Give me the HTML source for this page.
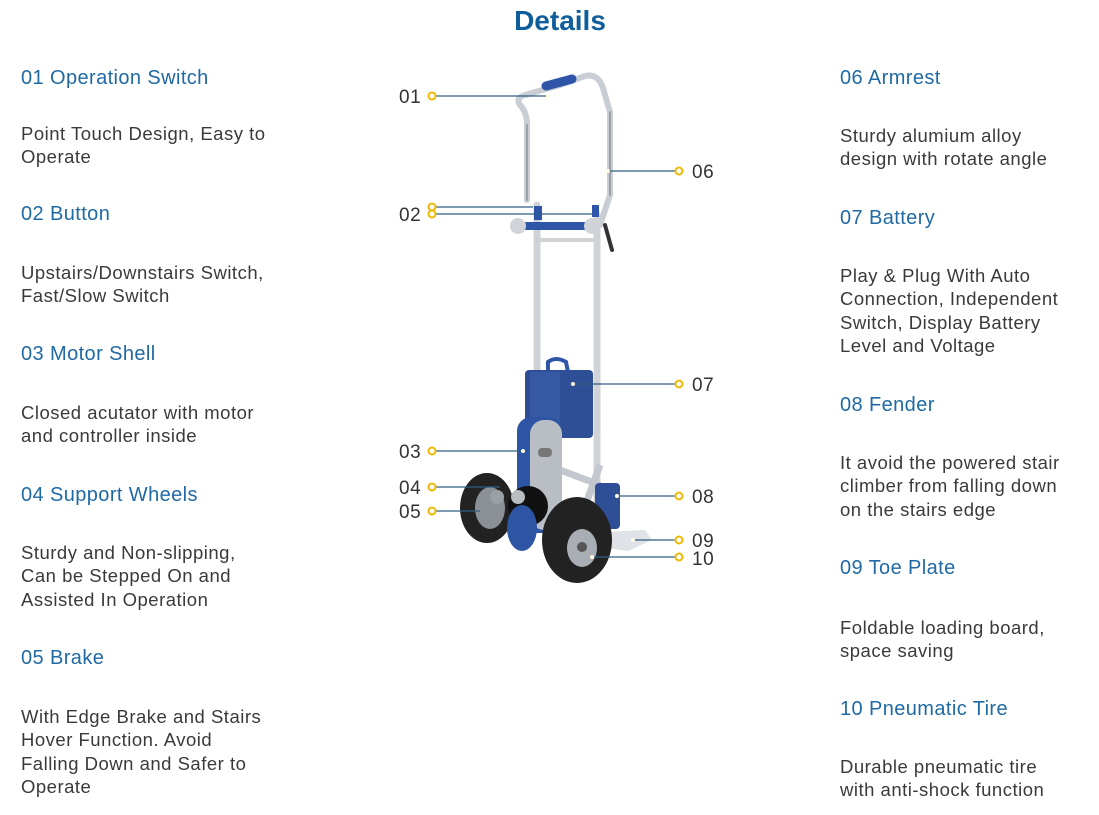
<!DOCTYPE html>
<html><head><meta charset="utf-8"><style>
html,body{margin:0;padding:0;background:#fff;}
body{width:1099px;height:815px;position:relative;overflow:hidden;font-family:"Liberation Sans",sans-serif;}
.t{position:absolute;white-space:nowrap;}
.h{color:#1f6aa5;font-size:20px;letter-spacing:0.4px;}
.b{color:#3a3a3a;font-size:18.5px;letter-spacing:0.5px;line-height:23.3px;}
#title{position:absolute;left:0;width:1120px;top:5px;text-align:center;font-weight:bold;font-size:28px;color:#0f5e9c;}
svg{position:absolute;left:0;top:0;}
</style></head><body>
<div id="title">Details</div>

<div class="t h" style="left:21px;top:67px">01 Operation Switch</div>
<div class="t b" style="left:21px;top:122px">Point Touch Design, Easy to<br>Operate</div>
<div class="t h" style="left:21px;top:203px">02 Button</div>
<div class="t b" style="left:21px;top:261px">Upstairs/Downstairs Switch,<br>Fast/Slow Switch</div>
<div class="t h" style="left:21px;top:343px">03 Motor Shell</div>
<div class="t b" style="left:21px;top:401px">Closed acutator with motor<br>and controller inside</div>
<div class="t h" style="left:21px;top:484px">04 Support Wheels</div>
<div class="t b" style="left:21px;top:541px">Sturdy and Non-slipping,<br>Can be Stepped On and<br>Assisted In Operation</div>
<div class="t h" style="left:21px;top:647px">05 Brake</div>
<div class="t b" style="left:21px;top:705px">With Edge Brake and Stairs<br>Hover Function. Avoid<br>Falling Down and Safer to<br>Operate</div>

<div class="t h" style="left:840px;top:67px">06 Armrest</div>
<div class="t b" style="left:840px;top:124px">Sturdy alumium alloy<br>design with rotate angle</div>
<div class="t h" style="left:840px;top:207px">07 Battery</div>
<div class="t b" style="left:840px;top:264px">Play &amp; Plug With Auto<br>Connection, Independent<br>Switch, Display Battery<br>Level and Voltage</div>
<div class="t h" style="left:840px;top:394px">08 Fender</div>
<div class="t b" style="left:840px;top:451px">It avoid the powered stair<br>climber from falling down<br>on the stairs edge</div>
<div class="t h" style="left:840px;top:557px">09 Toe Plate</div>
<div class="t b" style="left:840px;top:616px">Foldable loading board,<br>space saving</div>
<div class="t h" style="left:840px;top:698px">10 Pneumatic Tire</div>
<div class="t b" style="left:840px;top:755px">Durable pneumatic tire<br>with anti-shock function</div>

<svg width="1099" height="815" viewBox="0 0 1099 815">
<g fill="none" stroke-linecap="round">
 <path d="M527 200 L527 125 Q527 112 520 105 Q515 98 525 95 L560 85 L585 76 Q598 73 603 88 L610 112 L610 195 L600 225" stroke="#c9ced4" stroke-width="6"/>
 <path d="M527 200 L527 125" stroke="#9aa1a9" stroke-width="2"/>
 <path d="M610 112 L610 195" stroke="#9aa1a9" stroke-width="2"/>
 <path d="M546 86 L572 79" stroke="#2f55a8" stroke-width="9"/>
 <path d="M537 205 L537 380" stroke="#cfd3d8" stroke-width="7"/>
 <path d="M597 215 L597 540" stroke="#cfd3d8" stroke-width="7"/>
 <path d="M537 240 L597 240" stroke="#cfd3d8" stroke-width="4"/>
 <path d="M515 226 L592 226" stroke="#2f55a8" stroke-width="8"/>
 <path d="M605 225 L612 250" stroke="#333" stroke-width="4"/>
</g>
<circle cx="518" cy="226" r="8" fill="#d0d4d8"/>
<circle cx="592" cy="226" r="8" fill="#d0d4d8"/>
<rect x="534" y="206" width="8" height="14" fill="#2f55a8"/>
<rect x="592" y="205" width="7" height="12" fill="#2f55a8"/>
<path d="M548 372 L548 362 Q556 356 566 362 L568 372" fill="none" stroke="#2f55a8" stroke-width="4"/>
<rect x="525" y="370" width="68" height="68" rx="4" fill="#2e4f95"/>
<rect x="530" y="372" width="30" height="60" fill="#3a62ad" opacity="0.6"/>
<path d="M560 470 L600 485 M580 520 L600 465" stroke="#c3c8ce" stroke-width="7"/>
<rect x="517" y="417" width="45" height="116" rx="14" fill="#2e55a3"/>
<rect x="530" y="420" width="32" height="110" rx="14" fill="#b9bec4"/>
<rect x="538" y="448" width="14" height="9" rx="4" fill="#777"/>
<rect x="595" y="483" width="25" height="46" rx="4" fill="#2e4f95"/>
<polygon points="605,532 645,530 652,540 628,551 605,548" fill="#dfe2e6"/>
<ellipse cx="487" cy="508" rx="27" ry="35" fill="#222"/>
<ellipse cx="490" cy="508" rx="15" ry="21" fill="#8b9096"/>
<circle cx="497" cy="497" r="7" fill="#9aa0a6"/>
<circle cx="528" cy="506" r="20" fill="#111"/>
<ellipse cx="522" cy="528" rx="15" ry="23" fill="#2e55a3"/>
<circle cx="518" cy="497" r="7" fill="#b8bdc2"/>
<ellipse cx="577" cy="540" rx="35" ry="43" fill="#222"/>
<ellipse cx="582" cy="548" rx="15" ry="19" fill="#a9aeb4"/>
<circle cx="582" cy="547" r="5" fill="#555"/>
<g stroke="#2f5e85" stroke-width="1.2">
 <line x1="436" y1="96" x2="548" y2="96"/>
 <line x1="436" y1="207" x2="533" y2="207"/>
 <line x1="436" y1="214" x2="592" y2="214"/>
 <line x1="436" y1="451" x2="523" y2="451"/>
 <line x1="436" y1="487" x2="500" y2="487"/>
 <line x1="436" y1="511" x2="480" y2="511"/>
 <line x1="608" y1="171" x2="675" y2="171"/>
 <line x1="573" y1="384" x2="675" y2="384"/>
 <line x1="617" y1="496" x2="675" y2="496"/>
 <line x1="633" y1="540" x2="675" y2="540"/>
 <line x1="592" y1="557" x2="675" y2="557"/>
</g>
<g fill="#fff" stroke="#f0b800" stroke-width="2">
 <circle cx="432" cy="96" r="3.5"/>
 <circle cx="432" cy="207" r="3.5"/>
 <circle cx="432" cy="214" r="3.5"/>
 <circle cx="432" cy="451" r="3.5"/>
 <circle cx="432" cy="487" r="3.5"/>
 <circle cx="432" cy="511" r="3.5"/>
 <circle cx="679" cy="171" r="3.5"/>
 <circle cx="679" cy="384" r="3.5"/>
 <circle cx="679" cy="496" r="3.5"/>
 <circle cx="679" cy="540" r="3.5"/>
 <circle cx="679" cy="557" r="3.5"/>
</g>
<g fill="#fffbe0">
 <circle cx="548" cy="96" r="2"/><circle cx="608" cy="171" r="2"/><circle cx="573" cy="384" r="2"/>
 <circle cx="523" cy="451" r="2"/><circle cx="617" cy="496" r="2"/><circle cx="633" cy="540" r="2"/><circle cx="592" cy="557" r="2"/>
</g>
<g font-family="Liberation Sans, sans-serif" font-size="19" fill="#333" letter-spacing="0.5">
 <text x="399" y="103">01</text>
 <text x="399" y="221">02</text>
 <text x="399" y="458">03</text>
 <text x="399" y="494">04</text>
 <text x="399" y="518">05</text>
 <text x="692" y="178">06</text>
 <text x="692" y="391">07</text>
 <text x="692" y="503">08</text>
 <text x="692" y="547">09</text>
 <text x="692" y="565">10</text>
</g>
</svg>
</body></html>
